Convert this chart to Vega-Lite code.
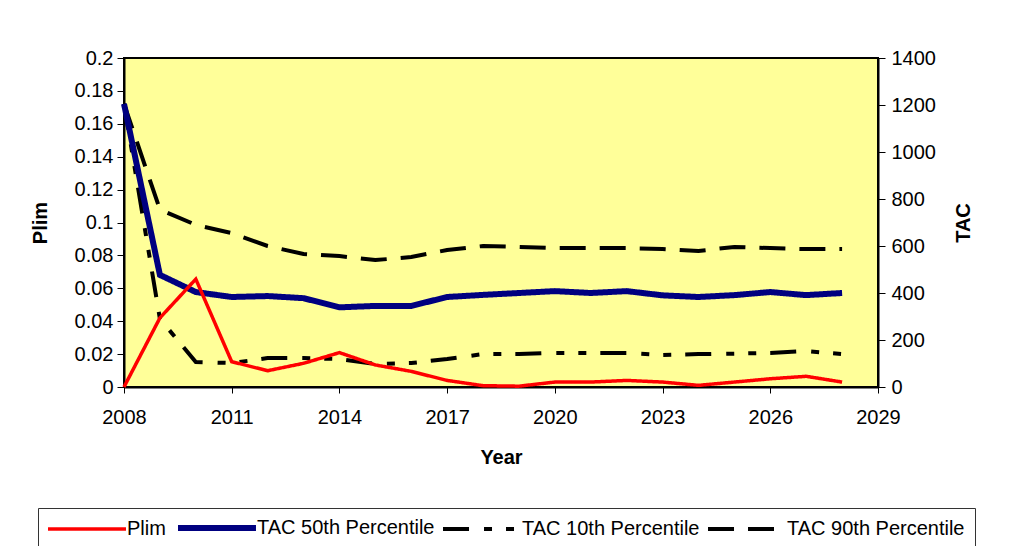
{
  "$schema": "https://vega.github.io/schema/vega-lite/v6.json",
  "width": 754,
  "height": 329,
  "autosize": {"type": "none"},
  "padding": {"left": 124, "top": 58, "right": 134, "bottom": 159},
  "background": "white",
  "config": {
    "view": {"fill": "#FFFF99", "stroke": "black", "strokeWidth": 2},
    "font": "Liberation Sans",
    "axis": {
      "labelFont": "Liberation Sans", "labelFontSize": 20, "labelColor": "black",
      "titleFont": "Liberation Sans", "titleFontSize": 20, "titleFontWeight": "bold", "titleColor": "black",
      "domainColor": "black", "domainWidth": 2, "tickColor": "black", "tickSize": 7, "tickWidth": 1, "grid": false
    },
    "legend": {
      "labelFont": "Liberation Sans", "labelFontSize": 20, "labelColor": "black"
    }
  },
  "data": {
    "values": [
      {"year": 2008, "series": "Plim", "value": 0},
      {"year": 2009, "series": "Plim", "value": 0.042},
      {"year": 2010, "series": "Plim", "value": 0.0656},
      {"year": 2011, "series": "Plim", "value": 0.0154},
      {"year": 2012, "series": "Plim", "value": 0.0099},
      {"year": 2013, "series": "Plim", "value": 0.0144},
      {"year": 2014, "series": "Plim", "value": 0.0209},
      {"year": 2015, "series": "Plim", "value": 0.0134},
      {"year": 2016, "series": "Plim", "value": 0.0095},
      {"year": 2017, "series": "Plim", "value": 0.004},
      {"year": 2018, "series": "Plim", "value": 0.0008},
      {"year": 2019, "series": "Plim", "value": 0.0005},
      {"year": 2020, "series": "Plim", "value": 0.003},
      {"year": 2021, "series": "Plim", "value": 0.003},
      {"year": 2022, "series": "Plim", "value": 0.004},
      {"year": 2023, "series": "Plim", "value": 0.003},
      {"year": 2024, "series": "Plim", "value": 0.001},
      {"year": 2025, "series": "Plim", "value": 0.003},
      {"year": 2026, "series": "Plim", "value": 0.005},
      {"year": 2027, "series": "Plim", "value": 0.0065},
      {"year": 2028, "series": "Plim", "value": 0.003},

      {"year": 2008, "series": "TAC 90th Percentile", "value": 1205},
      {"year": 2009, "series": "TAC 90th Percentile", "value": 755},
      {"year": 2010, "series": "TAC 90th Percentile", "value": 690},
      {"year": 2011, "series": "TAC 90th Percentile", "value": 655},
      {"year": 2012, "series": "TAC 90th Percentile", "value": 600},
      {"year": 2013, "series": "TAC 90th Percentile", "value": 566},
      {"year": 2014, "series": "TAC 90th Percentile", "value": 557},
      {"year": 2015, "series": "TAC 90th Percentile", "value": 540},
      {"year": 2016, "series": "TAC 90th Percentile", "value": 553},
      {"year": 2017, "series": "TAC 90th Percentile", "value": 583},
      {"year": 2018, "series": "TAC 90th Percentile", "value": 600},
      {"year": 2019, "series": "TAC 90th Percentile", "value": 596},
      {"year": 2020, "series": "TAC 90th Percentile", "value": 591},
      {"year": 2021, "series": "TAC 90th Percentile", "value": 591},
      {"year": 2022, "series": "TAC 90th Percentile", "value": 591},
      {"year": 2023, "series": "TAC 90th Percentile", "value": 587},
      {"year": 2024, "series": "TAC 90th Percentile", "value": 579},
      {"year": 2025, "series": "TAC 90th Percentile", "value": 596},
      {"year": 2026, "series": "TAC 90th Percentile", "value": 591},
      {"year": 2027, "series": "TAC 90th Percentile", "value": 587},
      {"year": 2028, "series": "TAC 90th Percentile", "value": 587},

      {"year": 2008, "series": "TAC 10th Percentile", "value": 1205},
      {"year": 2009, "series": "TAC 10th Percentile", "value": 290},
      {"year": 2010, "series": "TAC 10th Percentile", "value": 106},
      {"year": 2011, "series": "TAC 10th Percentile", "value": 102},
      {"year": 2012, "series": "TAC 10th Percentile", "value": 123},
      {"year": 2013, "series": "TAC 10th Percentile", "value": 123},
      {"year": 2014, "series": "TAC 10th Percentile", "value": 119},
      {"year": 2015, "series": "TAC 10th Percentile", "value": 98},
      {"year": 2016, "series": "TAC 10th Percentile", "value": 102},
      {"year": 2017, "series": "TAC 10th Percentile", "value": 119},
      {"year": 2018, "series": "TAC 10th Percentile", "value": 140},
      {"year": 2019, "series": "TAC 10th Percentile", "value": 140},
      {"year": 2020, "series": "TAC 10th Percentile", "value": 145},
      {"year": 2021, "series": "TAC 10th Percentile", "value": 145},
      {"year": 2022, "series": "TAC 10th Percentile", "value": 145},
      {"year": 2023, "series": "TAC 10th Percentile", "value": 136},
      {"year": 2024, "series": "TAC 10th Percentile", "value": 140},
      {"year": 2025, "series": "TAC 10th Percentile", "value": 142},
      {"year": 2026, "series": "TAC 10th Percentile", "value": 145},
      {"year": 2027, "series": "TAC 10th Percentile", "value": 153},
      {"year": 2028, "series": "TAC 10th Percentile", "value": 140},

      {"year": 2008, "series": "TAC 50th Percentile", "value": 1205},
      {"year": 2009, "series": "TAC 50th Percentile", "value": 477},
      {"year": 2010, "series": "TAC 50th Percentile", "value": 404},
      {"year": 2011, "series": "TAC 50th Percentile", "value": 383},
      {"year": 2012, "series": "TAC 50th Percentile", "value": 387},
      {"year": 2013, "series": "TAC 50th Percentile", "value": 378},
      {"year": 2014, "series": "TAC 50th Percentile", "value": 339},
      {"year": 2015, "series": "TAC 50th Percentile", "value": 345},
      {"year": 2016, "series": "TAC 50th Percentile", "value": 345},
      {"year": 2017, "series": "TAC 50th Percentile", "value": 383},
      {"year": 2018, "series": "TAC 50th Percentile", "value": 392},
      {"year": 2019, "series": "TAC 50th Percentile", "value": 400},
      {"year": 2020, "series": "TAC 50th Percentile", "value": 408},
      {"year": 2021, "series": "TAC 50th Percentile", "value": 400},
      {"year": 2022, "series": "TAC 50th Percentile", "value": 408},
      {"year": 2023, "series": "TAC 50th Percentile", "value": 390},
      {"year": 2024, "series": "TAC 50th Percentile", "value": 383},
      {"year": 2025, "series": "TAC 50th Percentile", "value": 391},
      {"year": 2026, "series": "TAC 50th Percentile", "value": 404},
      {"year": 2027, "series": "TAC 50th Percentile", "value": 391},
      {"year": 2028, "series": "TAC 50th Percentile", "value": 400}
    ]
  },
  "layer": [
    {
      "layer": [
        {
          "transform": [{"filter": "datum.series === 'TAC 90th Percentile'"}],
          "mark": {"type": "line", "strokeCap": "butt", "strokeWidth": 4}
        },
        {
          "transform": [{"filter": "datum.series === 'TAC 10th Percentile'"}],
          "mark": {"type": "line", "strokeCap": "butt", "strokeWidth": 4}
        },
        {
          "transform": [{"filter": "datum.series === 'TAC 50th Percentile'"}],
          "mark": {"type": "line", "strokeCap": "butt", "strokeWidth": 6}
        }
      ],
      "encoding": {
        "x": {"field": "year", "type": "quantitative", "scale": {"domain": [2008, 2029], "nice": false, "zero": false},
              "axis": {"title": "Year", "values": [2008, 2011, 2014, 2017, 2020, 2023, 2026, 2029], "format": "d", "tickSize": 6, "labelPadding": 14, "titlePadding": 20, "labelFlush": false, "labelFontSize": 20, "titleFontSize": 20}},
        "y": {"field": "value", "type": "quantitative", "scale": {"domain": [0, 1400], "nice": false},
              "axis": {"title": "TAC", "orient": "right", "titleAngle": -90, "values": [0, 200, 400, 600, 800, 1000, 1200, 1400], "format": "d", "labelPadding": 6, "titlePadding": 38, "labelFontSize": 20, "titleFontSize": 20}},
        "color": {"field": "series", "type": "nominal",
                  "scale": {"domain": ["Plim", "TAC 50th Percentile", "TAC 10th Percentile", "TAC 90th Percentile"], "range": ["#FF0000", "#000080", "#000000", "#000000"]},
                  "legend": {"title": null, "orient": "none", "legendX": -86, "legendY": 450, "direction": "horizontal", "symbolType": "M-4,0H4", "symbolSize": 380, "symbolOffset": 29, "labelFontSize": 20, "labelOffset": 30, "columnPadding": 0, "padding": 10, "strokeColor": "#333333", "fillColor": "white", "labelLimit": 400,
                             "encode": {"symbols": {"update": {"strokeWidth": {"signal": "datum.value === 'TAC 50th Percentile' ? 6 : datum.value === 'Plim' ? 3.5 : 4"}}}}}},
        "strokeDash": {"field": "series", "type": "nominal",
                  "scale": {"domain": ["Plim", "TAC 50th Percentile", "TAC 10th Percentile", "TAC 90th Percentile"], "range": [[1, 0], [1, 0], [26, 15, 8, 14, 8, 14], [26, 14]]},
                  "legend": {"title": null, "orient": "none", "legendX": -86, "legendY": 450, "direction": "horizontal", "symbolType": "M-4,0H4", "symbolSize": 380, "symbolOffset": 29, "labelFontSize": 20, "labelOffset": 30, "columnPadding": 0, "padding": 10, "strokeColor": "#333333", "fillColor": "white", "labelLimit": 400,
                             "encode": {"symbols": {"update": {"strokeWidth": {"signal": "datum.value === 'TAC 50th Percentile' ? 6 : datum.value === 'Plim' ? 3.5 : 4"}}}}}}
      }
    },
    {
      "transform": [{"filter": "datum.series === 'Plim'"}],
      "mark": {"type": "line", "strokeCap": "butt", "strokeWidth": 3.5},
      "encoding": {
        "x": {"field": "year", "type": "quantitative", "scale": {"domain": [2008, 2029], "nice": false, "zero": false}},
        "y": {"field": "value", "type": "quantitative", "scale": {"domain": [0, 0.2], "nice": false},
              "axis": {"title": "Plim", "orient": "left", "values": [0, 0.02, 0.04, 0.06, 0.08, 0.1, 0.12, 0.14, 0.16, 0.18, 0.2], "format": ".2~f", "labelPadding": 4, "titlePadding": 24, "labelFontSize": 20, "titleFontSize": 20}},
        "color": {"field": "series", "type": "nominal",
                  "scale": {"domain": ["Plim", "TAC 50th Percentile", "TAC 10th Percentile", "TAC 90th Percentile"], "range": ["#FF0000", "#000080", "#000000", "#000000"]},
                  "legend": {"title": null, "orient": "none", "legendX": -86, "legendY": 450, "direction": "horizontal", "symbolType": "M-4,0H4", "symbolSize": 380, "symbolOffset": 29, "labelFontSize": 20, "labelOffset": 30, "columnPadding": 0, "padding": 10, "strokeColor": "#333333", "fillColor": "white", "labelLimit": 400,
                             "encode": {"symbols": {"update": {"strokeWidth": {"signal": "datum.value === 'TAC 50th Percentile' ? 6 : datum.value === 'Plim' ? 3.5 : 4"}}}}}},
        "strokeDash": {"field": "series", "type": "nominal",
                  "scale": {"domain": ["Plim", "TAC 50th Percentile", "TAC 10th Percentile", "TAC 90th Percentile"], "range": [[1, 0], [1, 0], [26, 15, 8, 14, 8, 14], [26, 14]]},
                  "legend": {"title": null, "orient": "none", "legendX": -86, "legendY": 450, "direction": "horizontal", "symbolType": "M-4,0H4", "symbolSize": 380, "symbolOffset": 29, "labelFontSize": 20, "labelOffset": 30, "columnPadding": 0, "padding": 10, "strokeColor": "#333333", "fillColor": "white", "labelLimit": 400,
                             "encode": {"symbols": {"update": {"strokeWidth": {"signal": "datum.value === 'TAC 50th Percentile' ? 6 : datum.value === 'Plim' ? 3.5 : 4"}}}}}}
      }
    }
  ],
  "resolve": {"scale": {"y": "independent"}}
}
